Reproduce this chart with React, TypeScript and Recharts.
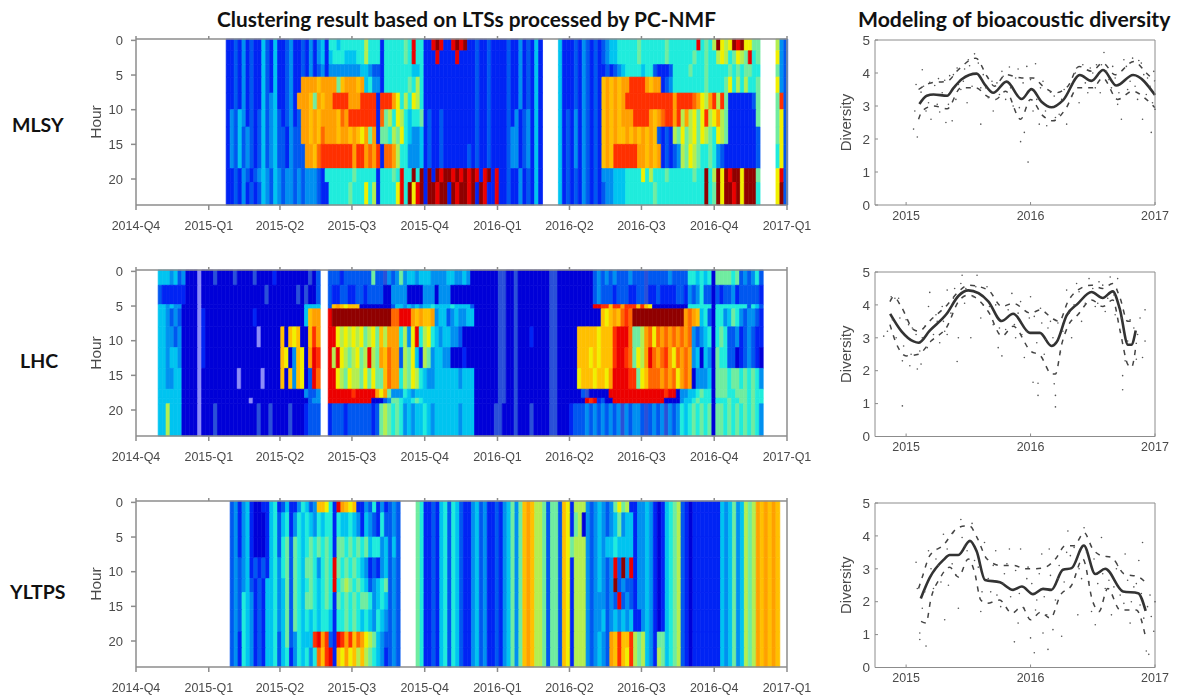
import { Bar, BarChart, Cell, ComposedChart, Line, Scatter, XAxis, YAxis } from 'recharts';

// jet-like colours used by the cluster maps, one letter per cluster
const palette: Record<string, string> = {
  a: '#0000d8', b: '#0024f4', c: '#0058f0', d: '#0090f0', e: '#00c4f0', f: '#20ecdc', g: '#70ecA0',
  h: '#b4ee50', y: '#f0f000', O: '#ffc000', o: '#ffa000', p: '#ff6800', r: '#ff3000', R: '#ec0000',
  D: '#900000', l: '#8c8cf8', s: '#2a50d8',
};

const quarterDays = [0, 92, 182, 273, 365, 457, 548, 639, 731, 823];
const quarterLabels = ['2014-Q4', '2015-Q1', '2015-Q2', '2015-Q3', '2015-Q4', '2016-Q1', '2016-Q2', '2016-Q3', '2016-Q4', '2017-Q1'];
const hourTicks = [0, 5, 10, 15, 20];
const COL_DAYS = 5;
const HOUR_PAD = 0.2;

const mlsyStartDay = 114;
const mlsyEdges = [0, 1.5, 3.5, 5.3, 7.6, 10, 12.5, 15, 18.5, 20.5, 23.75];
const mlsyBands = [
  'bbcbdbcbbe cbebbcdbbc bdbdebffef fffffhfffb fffffgfRff bbRDRbbRDR Dbbcbbcbbb bcbbdbcbeb ....ebbbcb dcbcbcdeef ffffgfffff fgfffffffR fgfhDyhyDR Dyygg....h dc',
  'bbcbdbcbbe cbebbcdbbc bdbdebefff eeeffhfffb fffffgfRff bbbRbbbbRb bbbcbbcbbb bcbbdbcbeb ....ebbbcb dcbcbcdeef ffffgfffff fgffffffgf fgffhyhfgy hgRfg....y dc',
  'bbcbdbcbbe cbebbcdbbc bdbcdbdddd ddddeedccb fffffffeef bbbbbbbbbb bbbcbbcbbb bcbbdbcbeb ....ebbbcb dcbcbbcbcd effffeffcb bbcffffgff fgfffffgfg fggff....g dc',
  'bbcbdbcbbe cbebbcdbbo oooOoooogO oooOoefddb ffffffgfhf bbbbbbbbbb bbbcbbcbbb bcbbdbcbeb ....ebbbcb dcbcbOoOoO oorrrroOoo bcdfffffff fgffffgyfh fhffg....y dc',
  'bbcbdbcbbe cdebbcdboo oOgoOoorrr rooorrrrbr rroyfhfyhf bbbbbbbbbb bbbcbbcbbb bcbbdbcbeb ....ebbbcb dcbcbOoOoO orrrrrrrrr rrrorrrrpo yhorhrgbbb bbbcg....g rc',
  'bdcedbcbce cdecbcdbco oOoOooooOp orrrrrrrbp ghfyhfeffg bcbbcbbbbb bbbcbbcbbb bcbdbcdbeb ....ebcbdb dcbcbOoOoO ooorrrroOo prrorhohyg yrhyohgbbb bbbbg....g yc',
  'bdcecdcbce cdeccbdcco oOoOpoooOo oOoOyogobg gfhgyfedde bcbbcbbbbb bbbcbbcbbb bcddbcdbeb ....ebcbdb dcbcbOoOoO OoOoOoOoOc bcbhgyghyg yhgfyhgbbb bbbbc....g yc',
  'bdcecdcbce cdeccbdccc ooOprrrrrr rrorroporb ppohffddde bcbbcbbbbb bcbcbbcbbb bcddbcdbeb ....ebcbdb dcbcbOoOrr rrrrooOoOo bcbcdhgyhg ffgfdcbbbb bbbbc....f yc',
  'bbcbdcbcde dcedcddcdc dddcbfffff ffgfffffbf ffgfRffDfD bDbDRDDRDR DRDRbRDbRb bcbbdbcbeb ....ebcbcb dcbcbdddee effffyfhff fgffffffgf fDfhDyDRDD yDDDg....y Rc',
  'bbcbdbcbce dcedcddcdc dddcbbffff fgfffyfhbf fffyRfDyRD bDDRDDbDRD DRDbDRbbRb bcbbdbcbeb ....ebcbcb dcbcbcddee efffffffgf ffffffffff fDfgDyDDRD yDDDf....y Dc',
];

const lhcStartDay = 28;
const lhcEdges = [0, 2, 4.8, 5.4, 8, 11, 14, 17, 18.3, 19.1, 23.75];
const lhcBands = [
  'eeedecdaaa laaasaaaas aaaasaaaab aaaaaaaasa c..cccbccc ccccgccsdc dgdeedeeed dddeeddeda aaaaaassaa saaaaaaaas saaaaaaaaa cdcdcdcccd cccscccccd ccccffefef aggggfgcdc dfc',
  'cbbbbbbaaa laaaaaaaaa aaaaaaasaa aaaaasasaa c..cbbccbb ccbccccaad dddaaaaddd adddaaaaaa aaaaaassaa saaaaaaaas saaaaaaaaa cdcccbcccb bccsbbcbbb bccbdcdfcc acbccdbccc ccb',
  'eededdaaaa laaaaaaaaa aaaaaaaaaa aaaaaaaeee e..cOoOyOO Oaaaaaaaac eedededeef eeeefeeeec aaaaaassaa saaaaaaaas saaaaaaaaa RRrrOrrorr rOrOyaaaaa aaaaffffff affffffffc fec',
  'eedcdcaaaa lbaaaaaaaa aaaabaaaaa aaaaaaaeOo o..RDDDDDD DDDDDDDDDp pRRRoOoOOo deecdeddee aaaaaassaa saaaaaaaas saaaaaaaaa aaOyOoOprp DDDDDDDDDD DDDopoOefc affdegfdcd dcb',
  'eeddcdaaaa lbaaaaaaaa aaaaalaaaa aOaOyOaaOr o..RRyhyhy hyghygOhoo ofhdyRfhyf edeeddcaaa aaaaaassaa saaabaaaas saaaaaOOOO OyOOOrRRRp gghopypopo popopdcdef afgfccdbcd cbb',
  'eedeedaaaa lbaaaaaaaa aaaaaaaaaa aOyadOyaoR r..RhRyhgh yghRhgoOpo ochgyebhgd eeddaaabaa aaaaaassaa saaaaaaaas saaaaaOOOy OyOOOrRRrp gyhoRpopro ypopodeaed agffccabcd cba',
  'eeddeeaaaa laaaaaaaaa laaaaalaaa aOaOdOyacR p..RRyhgyh hgygyggOpo ofhgyhfedd eeeeeedeee aaaaaassaa saaaaaaaas saaaaayOOO yOOyoRRRRr rgyOpppopo pyopoaddde agggfggfgf gfd',
  'eeeeeeaaaa laaaaaaaaa aaaaaaaaaa aaaaaaadcc d..RRRRRRr RRRRRoyogd ddfedeeeee eeeeeeeeee aaaaaassaa saaaaaaaas saaaaaacsa aaaaRRRRRR RRRRRRRRrR Raddeefgff agggffgggf gff',
  'eeeeeeaaaa laaaaaaaaa aaalaaaaaa aaaaaaaacd d..RRRRRRR RRRRaaacdg gfeefgfeee eeeeeeeeee aaaaaassaa saaaaaaaas saaaaaaaRr RbcaaRRRRR RRRRRRRRaa aadeefgfff afffgffggf gff',
  'eeheeeaaaa laaasaaaaa aaaaasaasa aaasaaabcc c..bcccbcc ccccbcghgf gfdedeefed eeeeeedeee aaaaassaaa saaasaaaas saaabcccdc dcdcdcdsdc ddcscdcdsd cdfefgfgfg aggfgfgfgf gfd',
];

const yltpsStartDay = 119;
const yltpsEdges = [0, 1.5, 5, 8, 11, 13, 15.5, 18.7, 21, 23.75];
const yltpsBands = [
  'cdbdebaabb efbcebbdfe cdOOyfbRoO yObbdcfbdb cdc....gfb bcbefcfecb bdecdbbcbd egdgOoOhhg cggcOybhhh dcdedcdgyg hbbddedbab efghcbabbb bbbbedegde hghoOoOoO.',
  'cdbdebaaab efcefbdfef edfeffbfee fedbedcbfc cdc....gfb bcbefcfecb bdecdbbcbd egdgOoOhhg cggcOybgha dcdedcdegd eebddedbab efghcbabbb bbbbedegde hghoOoOoO.',
  'cdbdebaaab efcfgcgfef gfgfgfbggf gfgfgeffde cec....gfb bcbefcfecb bdecdbbcbd egdgOoOhhg cggcOyghhh dcdedeefee eebddedbab efghcbabbb bbbbedegde hghoOoOoO.',
  'cdcdebcbcb efdfgcgfeg gfdfgfRgfg fgfedbcbde cdc....gfb bcbefcfecb bdecdbbcbd egdgOoOhhg cggcOybhhh dcdedcdRcD dRbddedbab efghcbabbb bbbbedegde hghoOoOoO.',
  'cdcdecbcbe efdegcgfef gfefgfRfgh gfgfecdefg cdc....gfb bcbefcfecb bdecdbbcbd egdgOoOhhg cggcOybhhh dcdedcdDcd ccbddedbab efghcbabbb bbbbedegde hghoOoOoO.',
  'cdcfedbcbe efdegcgfeg gfefgfbgfg fgfggfdefe cdc....gfb bcbefcfecb bdecdbbcbd egdgOoOhhg cggcOybhhh dcdddcdcRc dcbddedbab efghcbabbb bbbbedegde hghoOoOoO.',
  'cdcfedbcbe efdegcgfef efeffebffg fgfefedfed cdc....gfb bcbefcfecb bdecdbbcbd egdgOoOhhg cggcOybhhh dcddecdede debbdedbab efghcbabbb bbbbedegde hghoOoOoO.',
  'cdbfedbcbe efcegcdfee erRorcbRro rOpoyhgedc cdc....gfb bcbefcfecb bdecdbbcbd egdgOoOhhg cggcOybhhh dcdedcoOrO Orhghedbgg efghcbabbb bbbbedegde hghoOoOoO.',
  'cdbfedbcbe efcefbdfef dfpOrRbOyo yOhOhgfedb cdc....gfb bcbefcfecb bdecdbbcbd egdgOoOhhg cggcOybhhh dcdedcoOrO yrhghedbhg efghcbabbb bbbbedegde hghoOoOoO.',
];

// diversity curves, [year, value]
const mlsySolid = [[2015.107, 3.06], [2015.166, 3.31], [2015.22, 3.35], [2015.33, 3.31], [2015.38, 3.54], [2015.447, 3.81], [2015.567, 3.98], [2015.634, 3.64], [2015.7, 3.4], [2015.807, 3.74], [2015.928, 3.21], [2016.008, 3.51], [2016.088, 3.13], [2016.168, 2.96], [2016.262, 3.18], [2016.396, 3.94], [2016.489, 3.76], [2016.583, 4.09], [2016.69, 3.62], [2016.824, 3.94], [2017, 3.33]];
const mlsyUpper = [[2015.1, 3.5], [2015.2, 3.7], [2015.33, 3.75], [2015.42, 4.1], [2015.56, 4.45], [2015.65, 3.9], [2015.71, 3.6], [2015.8, 3.95], [2015.93, 3.85], [2016.02, 3.85], [2016.1, 3.6], [2016.2, 3.4], [2016.3, 3.6], [2016.39, 4.2], [2016.49, 4.05], [2016.58, 4.3], [2016.68, 3.95], [2016.83, 4.35], [2016.93, 4.0], [2017, 3.75]];
const mlsyLower = [[2015.1, 2.6], [2015.13, 2.85], [2015.22, 3.0], [2015.33, 2.92], [2015.44, 3.55], [2015.56, 3.55], [2015.65, 3.3], [2015.72, 3.2], [2015.8, 3.45], [2015.92, 2.6], [2016.0, 3.2], [2016.1, 2.7], [2016.18, 2.55], [2016.28, 2.9], [2016.38, 3.55], [2016.5, 3.55], [2016.58, 3.85], [2016.7, 3.2], [2016.82, 3.45], [2016.93, 3.2], [2017, 2.95]];
const mlsyDots = [[2015.06, 2.3], [2015.09, 2.06], [2015.07, 2.85], [2015.08, 3.65], [2015.13, 4.1], [2015.12, 3.42], [2015.16, 2.85], [2015.19, 3.72], [2015.2, 2.6], [2015.26, 3.83], [2015.27, 2.82], [2015.29, 3.4], [2015.32, 2.5], [2015.35, 3.92], [2015.37, 2.55], [2015.4, 3.2], [2015.41, 4.15], [2015.44, 3.5], [2015.47, 4.12], [2015.49, 3.1], [2015.5, 4.4], [2015.55, 4.58], [2015.53, 3.6], [2015.6, 2.45], [2015.62, 3.95], [2015.66, 3.25], [2015.7, 2.85], [2015.73, 3.7], [2015.77, 4.05], [2015.8, 3.2], [2015.83, 4.18], [2015.86, 3.0], [2015.9, 4.12], [2015.92, 1.92], [2015.95, 2.2], [2015.98, 1.3], [2015.97, 4.2], [2016.02, 2.85], [2016.04, 4.28], [2016.07, 2.45], [2016.1, 3.75], [2016.13, 2.4], [2016.16, 3.42], [2016.2, 2.65], [2016.25, 3.2], [2016.29, 2.45], [2016.31, 3.65], [2016.36, 4.0], [2016.39, 3.1], [2016.42, 4.25], [2016.46, 3.4], [2016.5, 4.0], [2016.53, 4.25], [2016.56, 3.4], [2016.59, 4.62], [2016.63, 3.8], [2016.66, 4.2], [2016.7, 3.05], [2016.73, 2.6], [2016.75, 4.4], [2016.78, 3.5], [2016.82, 4.45], [2016.86, 3.2], [2016.89, 4.3], [2016.9, 2.6], [2016.94, 3.85], [2016.97, 2.2], [2016.99, 4.05], [2017, 2.9],
  [2015.14, 3.6], [2015.18, 3.1], [2015.23, 3.62], [2015.25, 3.05], [2015.31, 3.78], [2015.34, 3.05], [2015.38, 3.95], [2015.42, 3.65], [2015.46, 3.75], [2015.51, 4.22], [2015.58, 4.3], [2015.6, 3.55], [2015.64, 3.55], [2015.69, 3.75], [2015.75, 3.35], [2015.78, 3.9], [2015.84, 3.55], [2015.88, 3.85], [2015.91, 2.95], [2015.94, 3.7], [2016.0, 3.8], [2016.05, 3.2], [2016.08, 3.55], [2016.12, 2.85], [2016.19, 3.3], [2016.23, 2.75], [2016.27, 3.5], [2016.33, 3.3], [2016.37, 4.15], [2016.44, 3.7], [2016.48, 4.15], [2016.52, 3.55], [2016.57, 4.25], [2016.61, 4.05], [2016.65, 3.55], [2016.68, 3.85], [2016.71, 3.4], [2016.77, 4.2], [2016.8, 3.75], [2016.84, 3.6], [2016.87, 4.38], [2016.91, 3.95], [2016.93, 3.35], [2016.96, 3.6], [2016.98, 3.1]];

const lhcSolid = [[2014.872, 3.73], [2014.965, 3.19], [2015.06, 2.89], [2015.1, 2.85], [2015.19, 3.22], [2015.326, 3.73], [2015.42, 4.27], [2015.5, 4.44], [2015.66, 4.11], [2015.767, 3.51], [2015.86, 3.73], [2015.995, 3.15], [2016.075, 3.15], [2016.168, 2.75], [2016.21, 2.87], [2016.29, 3.68], [2016.38, 4.04], [2016.49, 4.39], [2016.58, 4.21], [2016.66, 4.41], [2016.717, 3.88], [2016.783, 2.79], [2016.81, 2.79], [2016.845, 3.22]];
const lhcUpper = [[2014.87, 4.1], [2014.9, 4.25], [2014.96, 3.95], [2015.06, 3.25], [2015.1, 3.2], [2015.2, 3.55], [2015.33, 4.0], [2015.42, 4.4], [2015.5, 4.6], [2015.66, 4.45], [2015.77, 3.95], [2015.86, 4.05], [2016.0, 3.75], [2016.08, 3.85], [2016.17, 3.6], [2016.23, 3.5], [2016.3, 4.1], [2016.38, 4.45], [2016.49, 4.6], [2016.58, 4.5], [2016.66, 4.65], [2016.72, 4.2], [2016.78, 3.5], [2016.85, 3.55]];
const lhcLower = [[2014.87, 3.4], [2014.93, 2.75], [2015.0, 2.45], [2015.1, 2.5], [2015.2, 2.9], [2015.33, 3.35], [2015.42, 4.1], [2015.5, 4.3], [2015.66, 3.8], [2015.77, 3.05], [2015.86, 3.35], [2016.0, 2.6], [2016.08, 2.45], [2016.17, 1.9], [2016.2, 1.9], [2016.25, 2.8], [2016.3, 3.35], [2016.38, 3.7], [2016.49, 4.15], [2016.58, 3.95], [2016.66, 4.15], [2016.72, 3.2], [2016.78, 2.2], [2016.81, 2.1], [2016.85, 2.85]];
const lhcDots = [[2014.82, 3.05], [2014.85, 3.2], [2014.88, 4.25], [2014.92, 3.0], [2014.94, 4.2], [2014.97, 0.93], [2014.97, 2.3], [2015.0, 3.55], [2015.03, 2.15], [2015.05, 3.3], [2015.09, 2.05], [2015.12, 2.2], [2015.13, 3.0], [2015.18, 3.95], [2015.19, 4.38], [2015.24, 3.7], [2015.27, 2.85], [2015.3, 3.5], [2015.33, 3.1], [2015.33, 4.45], [2015.39, 4.5], [2015.41, 2.28], [2015.42, 3.0], [2015.45, 4.9], [2015.47, 4.05], [2015.52, 3.0], [2015.57, 4.9], [2015.6, 3.6], [2015.65, 4.55], [2015.7, 3.4], [2015.74, 2.7], [2015.77, 2.45], [2015.8, 3.25], [2015.85, 4.35], [2015.88, 3.0], [2015.92, 4.1], [2015.95, 2.4], [2015.99, 3.6], [2016.0, 4.25], [2016.02, 1.65], [2016.06, 1.62], [2016.06, 1.25], [2016.09, 3.45], [2016.12, 2.95], [2016.16, 3.5], [2016.19, 1.6], [2016.2, 1.25], [2016.2, 0.9], [2016.24, 2.55], [2016.29, 4.45], [2016.33, 3.0], [2016.37, 4.65], [2016.41, 3.5], [2016.47, 4.8], [2016.52, 3.95], [2016.55, 4.7], [2016.6, 3.8], [2016.64, 4.85], [2016.68, 3.7], [2016.7, 4.8], [2016.74, 1.85], [2016.74, 1.42], [2016.76, 2.3], [2016.8, 3.55], [2016.85, 2.35], [2016.88, 3.6], [2016.9, 2.4], [2016.92, 3.85], [2016.92, 2.9],
  [2014.89, 3.55], [2014.91, 4.2], [2014.95, 3.6], [2014.98, 2.75], [2015.02, 3.4], [2015.04, 2.5], [2015.08, 3.1], [2015.11, 2.6], [2015.15, 3.35], [2015.17, 2.7], [2015.22, 3.1], [2015.25, 3.5], [2015.29, 3.95], [2015.31, 3.2], [2015.36, 3.75], [2015.38, 4.2], [2015.44, 4.65], [2015.48, 4.5], [2015.54, 4.25], [2015.56, 4.55], [2015.62, 4.0], [2015.67, 3.95], [2015.72, 4.0], [2015.75, 3.3], [2015.82, 3.85], [2015.87, 3.4], [2015.9, 3.75], [2015.93, 3.1], [2015.97, 3.2], [2016.03, 3.65], [2016.05, 2.85], [2016.08, 3.9], [2016.11, 2.5], [2016.14, 3.3], [2016.18, 3.0], [2016.22, 3.45], [2016.26, 3.2], [2016.31, 3.75], [2016.35, 4.0], [2016.39, 4.4], [2016.44, 4.05], [2016.5, 4.5], [2016.54, 4.05], [2016.58, 4.6], [2016.62, 4.2], [2016.67, 4.3], [2016.73, 3.6], [2016.78, 2.9], [2016.83, 3.3], [2016.86, 3.1]];

const yltpsSolid = [[2015.118, 2.1], [2015.19, 2.73], [2015.3, 3.27], [2015.35, 3.42], [2015.42, 3.42], [2015.513, 3.85], [2015.567, 3.53], [2015.634, 2.66], [2015.754, 2.59], [2015.86, 2.36], [2015.93, 2.46], [2016.02, 2.23], [2016.1, 2.39], [2016.168, 2.36], [2016.26, 2.97], [2016.33, 3.02], [2016.428, 3.71], [2016.52, 2.84], [2016.6, 3.0], [2016.743, 2.31], [2016.864, 2.26], [2016.925, 1.72]];
const yltpsUpper = [[2015.1, 2.4], [2015.13, 2.75], [2015.19, 3.4], [2015.3, 3.72], [2015.4, 4.2], [2015.47, 4.3], [2015.51, 4.3], [2015.57, 3.95], [2015.65, 3.3], [2015.76, 3.1], [2015.87, 3.1], [2015.95, 3.0], [2016.03, 3.0], [2016.12, 3.05], [2016.2, 3.3], [2016.28, 3.7], [2016.35, 3.7], [2016.43, 4.1], [2016.5, 3.6], [2016.57, 3.4], [2016.65, 3.35], [2016.75, 2.85], [2016.87, 2.75], [2016.92, 2.6]];
const yltpsLower = [[2015.12, 1.4], [2015.16, 1.35], [2015.2, 2.1], [2015.27, 2.7], [2015.35, 3.05], [2015.42, 2.75], [2015.5, 3.3], [2015.55, 2.9], [2015.6, 2.05], [2015.65, 1.95], [2015.75, 2.05], [2015.85, 1.65], [2015.93, 1.85], [2016.0, 1.45], [2016.08, 1.68], [2016.16, 1.5], [2016.24, 2.2], [2016.33, 2.5], [2016.42, 3.3], [2016.5, 2.0], [2016.55, 1.7], [2016.62, 2.4], [2016.72, 1.75], [2016.85, 1.75], [2016.92, 1.0]];
const yltpsDots = [[2015.08, 3.2], [2015.09, 2.4], [2015.11, 1.05], [2015.11, 0.85], [2015.13, 1.8], [2015.16, 0.65], [2015.18, 3.55], [2015.22, 2.4], [2015.26, 3.1], [2015.3, 4.05], [2015.31, 1.45], [2015.34, 2.5], [2015.38, 4.1], [2015.42, 1.8], [2015.44, 4.5], [2015.47, 3.7], [2015.53, 4.38], [2015.6, 1.7], [2015.63, 3.8], [2015.68, 2.3], [2015.72, 3.55], [2015.76, 1.85], [2015.79, 2.85], [2015.83, 3.6], [2015.87, 0.78], [2015.9, 1.35], [2015.92, 3.6], [2015.97, 2.7], [2016.0, 0.9], [2016.03, 0.45], [2016.05, 2.05], [2016.09, 3.45], [2016.1, 1.05], [2016.14, 0.55], [2016.15, 3.6], [2016.18, 1.15], [2016.22, 2.7], [2016.25, 0.95], [2016.29, 3.5], [2016.3, 4.15], [2016.38, 1.6], [2016.41, 2.7], [2016.43, 4.25], [2016.49, 1.7], [2016.52, 1.3], [2016.57, 3.95], [2016.6, 2.4], [2016.65, 1.6], [2016.7, 3.1], [2016.76, 3.45], [2016.8, 1.35], [2016.83, 2.45], [2016.87, 3.25], [2016.88, 1.9], [2016.9, 3.8], [2016.93, 0.5], [2016.95, 0.4], [2016.96, 2.2], [2016.99, 1.1], [2017, 2.0],
  [2015.15, 2.3], [2015.2, 3.0], [2015.24, 3.3], [2015.28, 2.6], [2015.33, 3.6], [2015.37, 3.15], [2015.4, 2.8], [2015.45, 3.95], [2015.49, 3.55], [2015.55, 3.25], [2015.58, 3.05], [2015.61, 2.3], [2015.66, 2.7], [2015.7, 3.1], [2015.73, 2.2], [2015.78, 2.55], [2015.81, 3.15], [2015.84, 2.15], [2015.88, 2.95], [2015.91, 2.25], [2015.95, 1.8], [2015.98, 3.05], [2016.01, 2.55], [2016.04, 1.75], [2016.07, 2.85], [2016.11, 2.15], [2016.13, 1.6], [2016.16, 2.8], [2016.2, 2.05], [2016.23, 3.1], [2016.27, 2.6], [2016.32, 3.4], [2016.35, 3.65], [2016.39, 3.0], [2016.45, 3.5], [2016.47, 2.6], [2016.51, 3.3], [2016.54, 2.55], [2016.58, 2.85], [2016.63, 2.65], [2016.67, 2.45], [2016.69, 3.0], [2016.72, 2.2], [2016.75, 1.95], [2016.78, 2.65], [2016.81, 2.0], [2016.85, 2.55], [2016.89, 2.25], [2016.91, 1.5], [2016.94, 1.85], [2016.97, 1.55]];

const yearTicks = [2015, 2016, 2017];
const diversityTicks = [0, 1, 2, 3, 4, 5];

const sans = '"Liberation Sans", Arial, sans-serif';
const textGrey = '#4a4a4a';
const axisGrey = '#8c8c8c';

const toPoints = (pairs: number[][]) => pairs.map(([t, v]) => ({ t, v }));

type HeatmapProps = { top: number; bottom: number; startDay: number; edges: number[]; bands: string[] };

const Heatmap = ({ top, bottom, startDay, edges, bands }: HeatmapProps) => {
  const cols = bands.map((b) => b.replace(/\s/g, ''));
  const count = Math.max(...cols.map((c) => c.length));
  const rows = Array.from({ length: count }, (_, i) => {
    const row: Record<string, number> = { day: startDay + (i + 0.5) * COL_DAYS };
    cols.forEach((_, j) => {
      row[`b${j}`] = edges[j + 1] - edges[j] + (j === 0 ? HOUR_PAD : 0);
    });
    return row;
  });
  const chartTop = top - 10;
  const plotH = bottom - top;

  return (
    <div style={{ position: 'absolute', left: 76, top: chartTop, filter: 'blur(0.7px)' }}>
      <BarChart
        width={743}
        height={plotH + 10 + 34}
        data={rows}
        barCategoryGap={0}
        margin={{ top: 0, right: 0, bottom: 0, left: 0 }}
      >
        <XAxis xAxisId="bottom" dataKey="day" type="number" domain={[0, 823]} ticks={quarterDays} interval={0}
          tickFormatter={(d: number) => quarterLabels[quarterDays.indexOf(d)]}
          height={34} tickSize={5} tickMargin={11} stroke={axisGrey} strokeWidth={1.5}
          tick={{ fontSize: 12.5, fill: textGrey, fontFamily: sans }} />
        <XAxis xAxisId="top" orientation="top" dataKey="day" type="number" domain={[0, 823]} ticks={quarterDays} interval={0}
          tickFormatter={() => ''} height={10} tickSize={3} stroke={axisGrey} strokeWidth={1.5} />
        <YAxis yAxisId="left" type="number" reversed domain={[0, 23.95]} ticks={hourTicks.map((h) => h + HOUR_PAD)} interval={0}
          tickFormatter={(v: number) => String(Math.round(v - HOUR_PAD))}
          width={60} tickSize={5} tickMargin={8} stroke={axisGrey} strokeWidth={1.5}
          tick={{ fontSize: 13, fill: textGrey, fontFamily: sans }}
          label={{ value: 'Hour', angle: -90, position: 'insideLeft', offset: 19, style: { textAnchor: 'middle', fontSize: 15.5, fill: textGrey, fontFamily: sans } }} />
        <YAxis yAxisId="right" orientation="right" type="number" reversed domain={[0, 23.95]} ticks={hourTicks.map((h) => h + HOUR_PAD)} interval={0}
          tickFormatter={() => ''} width={32} tickSize={5} stroke={axisGrey} strokeWidth={1.5} />
        {cols.map((col, j) => (
          <Bar key={j} xAxisId="bottom" yAxisId="left" dataKey={`b${j}`} stackId="hours" barSize={3.9} isAnimationActive={false}>
            {rows.map((_, i) => (
              <Cell key={i} fill={palette[col[i]] ?? 'none'} stroke={palette[col[i]] ?? 'none'} strokeWidth={0.7} />
            ))}
          </Bar>
        ))}
      </BarChart>
    </div>
  );
};

type DiversityProps = { top: number; bottom: number; solid: number[][]; upper: number[][]; lower: number[][]; dots: number[][] };

const Diversity = ({ top, bottom, solid, upper, lower, dots }: DiversityProps) => (
  <div style={{ position: 'absolute', left: 825, top: top - 10, filter: 'blur(0.5px)' }}>
    <ComposedChart width={353} height={bottom - top + 10 + 30} margin={{ top: 0, right: 0, bottom: 0, left: 0 }}>
      <XAxis xAxisId="bottom" dataKey="t" type="number" domain={[2014.75, 2017]} ticks={yearTicks} interval={0} allowDuplicatedCategory={false}
        height={30} tickSize={-3} tickMargin={9} stroke={axisGrey}
        tick={{ fontSize: 12.5, fill: textGrey, fontFamily: sans }} />
      <XAxis xAxisId="top" orientation="top" dataKey="t" type="number" domain={[2014.75, 2017]} ticks={yearTicks} interval={0} allowDuplicatedCategory={false}
        tickFormatter={() => ''} height={10} tickSize={-3} stroke={axisGrey} />
      <YAxis yAxisId="left" type="number" domain={[0, 5]} ticks={diversityTicks} interval={0}
        width={50} tickSize={-3} tickMargin={8} stroke={axisGrey}
        tick={{ fontSize: 13.5, fill: textGrey, fontFamily: sans }}
        label={{ value: 'Diversity', angle: -90, position: 'insideLeft', offset: 21, style: { textAnchor: 'middle', fontSize: 15, fill: textGrey, fontFamily: sans } }} />
      <YAxis yAxisId="right" orientation="right" type="number" domain={[0, 5]} ticks={diversityTicks} interval={0}
        tickFormatter={() => ''} width={23} tickSize={-3} stroke={axisGrey} />
      <Scatter xAxisId="bottom" yAxisId="left" data={toPoints(dots)} dataKey="v" isAnimationActive={false}
        shape={(p: any) => <circle cx={p.cx} cy={p.cy} r={0.8} fill="#555" />} />
      <Line xAxisId="bottom" yAxisId="left" data={toPoints(upper)} dataKey="v" type="monotone" stroke="#444" strokeWidth={1.5} strokeDasharray="5 6" dot={false} isAnimationActive={false} />
      <Line xAxisId="bottom" yAxisId="left" data={toPoints(lower)} dataKey="v" type="monotone" stroke="#444" strokeWidth={1.5} strokeDasharray="5 6" dot={false} isAnimationActive={false} />
      <Line xAxisId="bottom" yAxisId="left" data={toPoints(solid)} dataKey="v" type="monotone" stroke="#333" strokeWidth={2.6} dot={false} isAnimationActive={false} />
    </ComposedChart>
  </div>
);

const titleStyle = { position: 'absolute', fontFamily: 'Lato, sans-serif', fontWeight: 700, color: '#111', whiteSpace: 'nowrap' } as const;

export default function App() {
  return (
    <div style={{ position: 'absolute', left: 0, top: 0, width: 1178, height: 699, background: '#fff', overflow: 'hidden' }}>
      <div style={{ ...titleStyle, left: 217, top: 6, fontSize: 20.8 }}>Clustering result based on LTSs processed by PC-NMF</div>
      <div style={{ ...titleStyle, left: 858, top: 6, fontSize: 21.2 }}>Modeling of bioacoustic diversity</div>
      <div style={{ ...titleStyle, left: 12, top: 113, fontSize: 19.5 }}>MLSY</div>
      <div style={{ ...titleStyle, left: 20, top: 349, fontSize: 19.5 }}>LHC</div>
      <div style={{ ...titleStyle, left: 10, top: 580, fontSize: 19.5 }}>YLTPS</div>

      <Heatmap top={38.5} bottom={204.5} startDay={mlsyStartDay} edges={mlsyEdges} bands={mlsyBands} />
      <Heatmap top={269.7} bottom={435.7} startDay={lhcStartDay} edges={lhcEdges} bands={lhcBands} />
      <Heatmap top={501.3} bottom={667.3} startDay={yltpsStartDay} edges={yltpsEdges} bands={yltpsBands} />

      <Diversity top={40} bottom={205} solid={mlsySolid} upper={mlsyUpper} lower={mlsyLower} dots={mlsyDots} />
      <Diversity top={271.5} bottom={436} solid={lhcSolid} upper={lhcUpper} lower={lhcLower} dots={lhcDots} />
      <Diversity top={503} bottom={667.5} solid={yltpsSolid} upper={yltpsUpper} lower={yltpsLower} dots={yltpsDots} />
    </div>
  );
}
